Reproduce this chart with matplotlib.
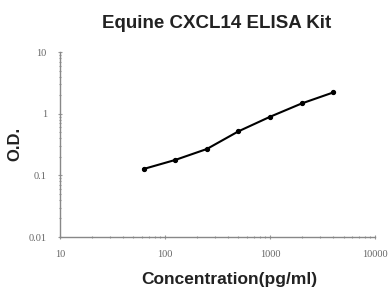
import numpy as np
import matplotlib
matplotlib.use("Agg")
import matplotlib.pyplot as plt
from matplotlib.ticker import LogLocator, FixedLocator, FixedFormatter

# standard curve
conc = [62.5, 125, 250, 500, 1000, 2000, 4000]
od = [0.127, 0.178, 0.268, 0.519, 0.894, 1.47, 2.22]

x_ticks = [10, 100, 1000, 10000]
x_labels = ["10", "100", "1000", "10000"]
y_ticks = [0.01, 0.1, 1, 10]
y_labels = ["0.01", "0.1", "1", "10"]

fig = plt.figure(figsize=(3.92, 2.88), dpi=100)
ax = fig.add_axes([0.153, 0.177, 0.804, 0.642])

ax.plot(conc, od, color="black", lw=1.5, marker="o", ms=2.8, zorder=3)

ax.set_xscale("log")
ax.set_yscale("log")
ax.set_xlim(10, 10000)
ax.set_ylim(0.01, 10)

ax.xaxis.set_major_locator(FixedLocator(x_ticks))
ax.xaxis.set_major_formatter(FixedFormatter(x_labels))
ax.yaxis.set_major_locator(FixedLocator(y_ticks))
ax.yaxis.set_major_formatter(FixedFormatter(y_labels))
ax.xaxis.set_minor_locator(LogLocator(base=10, subs=np.arange(2, 10)))
ax.yaxis.set_minor_locator(LogLocator(base=10, subs=np.arange(2, 10)))
ax.xaxis.set_minor_formatter(plt.NullFormatter())
ax.yaxis.set_minor_formatter(plt.NullFormatter())

for s in ["top", "right"]:
    ax.spines[s].set_visible(False)
for s in ["left", "bottom"]:
    ax.spines[s].set_color("#888888")
    ax.spines[s].set_linewidth(1.0)

ax.tick_params(which="both", direction="inout", color="#999999", width=0.8)
ax.tick_params(which="major", length=3, labelsize=7.5, labelcolor="#666666")
ax.tick_params(axis="x", which="major", pad=8)
ax.tick_params(axis="y", which="major", pad=8)
ax.tick_params(which="minor", length=2)
for lab in ax.get_xticklabels() + ax.get_yticklabels():
    lab.set_family("Liberation Serif")

fig.text(0.553, 0.917, "Equine CXCL14 ELISA Kit", ha="center", va="center",
         fontsize=13.5, fontweight="bold", family="Liberation Sans", color="#222222")
fig.text(0.584, 0.031, "Concentration(pg/ml)", ha="center", va="center",
         fontsize=12.5, fontweight="bold", family="Liberation Sans", color="#222222")
fig.text(0.038, 0.5, "O.D.", ha="center", va="center", rotation=90,
         fontsize=12, fontweight="bold", family="Liberation Sans", color="#222222")

fig.savefig("out.png", dpi=100)
